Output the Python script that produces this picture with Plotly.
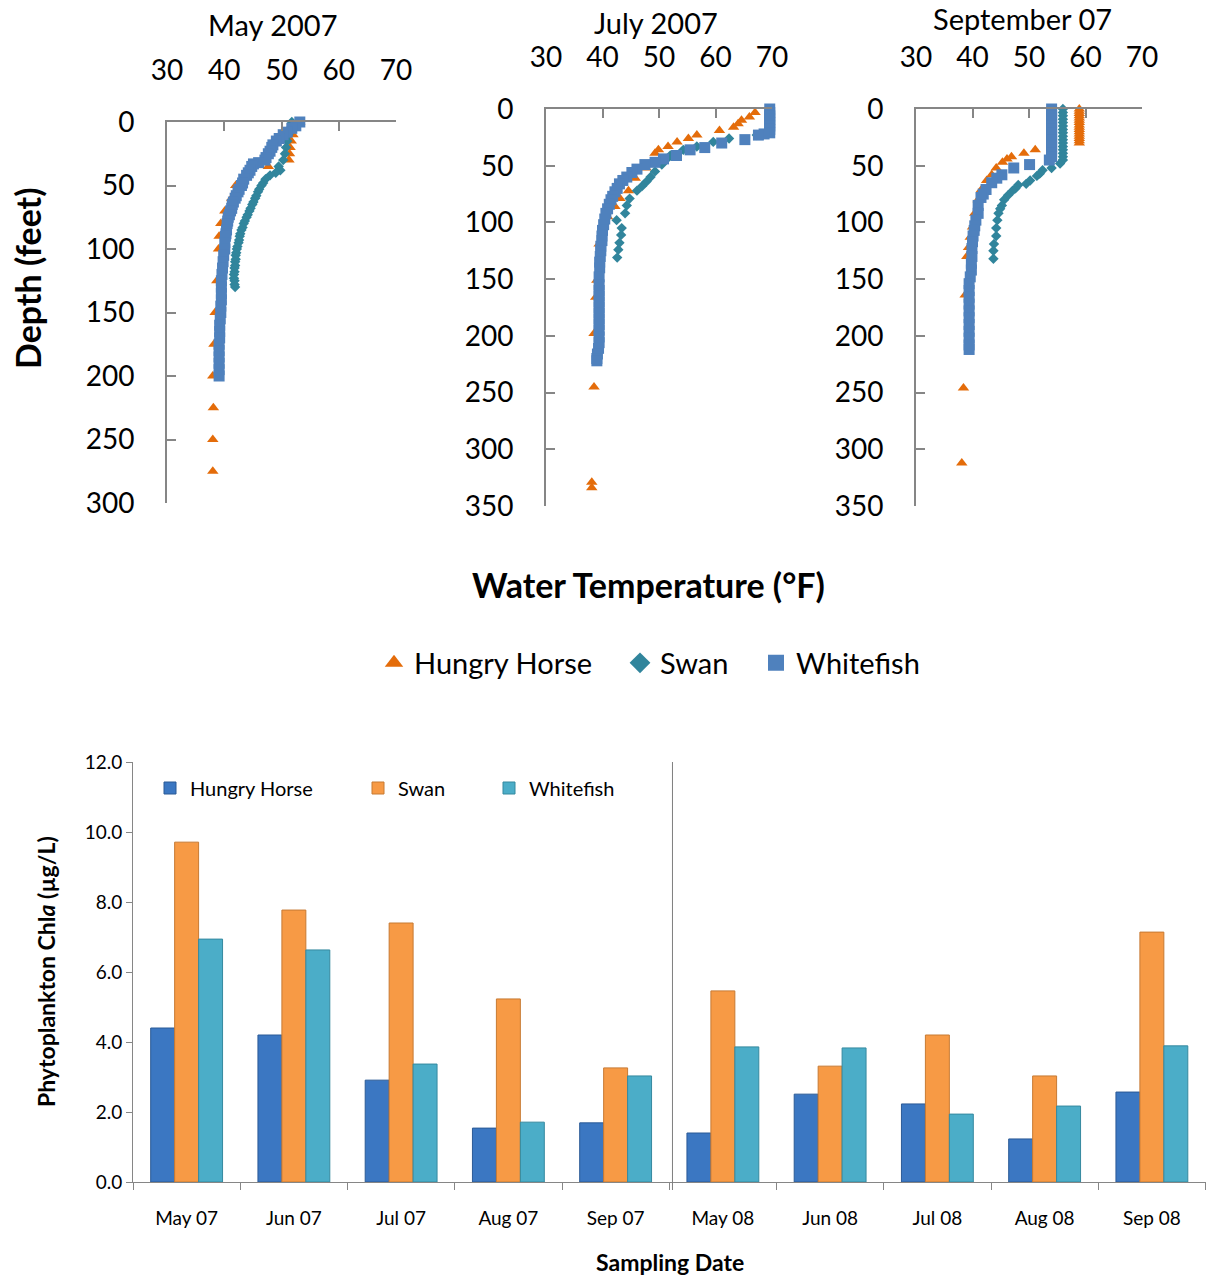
import plotly.graph_objects as go

W, H = 1206, 1276
FONT = "Lato"

# ---------------- temperature profiles (depth in feet, temperature in °F) ----------------
# May 2007
may_hh_depth = [0, 10, 15, 20, 25, 30, 35, 50, 60, 70, 80, 90, 100, 125, 150, 175, 200, 225, 250, 275]
may_hh_temp = [53.2, 52.0, 51.7, 51.5, 51.4, 51.3, 47.7, 42.0, 41.3, 40.1, 39.4, 39.1, 39.0, 38.7, 38.4,
               38.2, 38.0, 38.1, 38.0, 38.0]

may_sw_depth = [0, 5, 10, 15, 20, 25, 30, 35, 38, 40, 42, 45, 48, 50, 53, 55, 58, 60, 63, 65, 68, 70, 73,
                75, 78, 80, 83, 85, 88, 90, 93, 95, 98, 100, 103, 105, 108, 110, 113, 115, 118, 120, 123,
                125, 128, 130]
may_sw_temp = [51.8, 51.5, 51.2, 51.0, 50.8, 50.6, 50.3, 49.5, 49.8, 49.0, 48.0, 47.2, 46.8, 46.5, 46.1,
               45.9, 45.6, 45.4, 45.1, 44.9, 44.6, 44.4, 44.1, 43.9, 43.6, 43.4, 43.2, 43.0, 42.8, 42.7,
               42.6, 42.5, 42.3, 42.2, 42.1, 42.0, 42.0, 41.9, 41.9, 41.8, 41.8, 41.7, 41.7, 41.8, 41.8,
               41.9]

may_wf_depth = [0, 3, 5, 8, 10, 13, 15, 18, 20, 23, 25, 28, 30, 32, 33, 35, 38, 40, 42, 45, 48, 50, 53,
                55, 58, 60, 63, 65, 68, 70, 73, 75, 78, 80, 85, 88, 90, 95, 100, 105, 110, 115, 120, 125,
                130, 135, 140, 145, 150, 155, 160, 165, 170, 175, 180, 185, 190, 195, 200]
may_wf_temp = [53.2, 52.5, 51.8, 51.0, 50.3, 49.6, 49.1, 48.5, 48.3, 48.0, 47.7, 47.3, 47.1, 46.0, 45.1,
               44.8, 44.5, 44.2, 43.9, 43.4, 43.2, 43.0, 42.6, 42.4, 42.1, 41.9, 41.6, 41.4, 41.3, 41.1,
               40.9, 40.7, 40.6, 40.5, 40.4, 40.3, 40.2, 40.1, 40.1, 39.9, 39.8, 39.7, 39.6, 39.5, 39.5,
               39.5, 39.5, 39.4, 39.4, 39.3, 39.2, 39.2, 39.2, 39.1, 39.1, 39.1, 39.1, 39.1, 39.1]

# July 2007
jul_hh_depth = [3, 7, 10, 13, 16, 19, 23, 26, 29, 33, 36, 39, 52, 61, 72, 79, 86, 95, 119, 151, 166, 198,
                245, 329, 334]
jul_hh_temp = [67.0, 66.0, 64.6, 64.0, 63.2, 60.7, 56.7, 55.2, 53.2, 51.6, 49.9, 49.3, 47.7, 45.8, 44.6,
               43.1, 42.2, 40.9, 39.4, 39.0, 38.8, 38.5, 38.5, 38.1, 38.1]

jul_sw_depth = [23, 26, 29, 33, 36, 41, 45, 49, 55, 60, 64, 68, 72, 79, 85, 92, 98, 105, 111, 118, 124, 131]
jul_sw_temp = [67.3, 62.4, 59.6, 56.7, 54.3, 52.0, 51.2, 50.5, 49.3, 48.5, 47.8, 47.0, 46.1, 44.8, 44.3,
               44.0, 42.5, 43.4, 43.3, 43.0, 42.8, 42.6]

jul_wf_depth = [0, 3, 6, 9, 12, 15, 18, 21, 22, 23, 27, 30, 34, 36, 41, 44, 47, 49, 53, 56, 60, 63, 66,
                70, 73, 77, 80, 84, 88, 92, 97, 102, 107, 112, 116, 121, 125, 130, 135, 140, 148, 155, 160,
                165, 170, 175, 180, 185, 190, 195, 201, 206, 211, 216, 220, 222]
jul_wf_temp = [69.6, 69.6, 69.6, 69.6, 69.6, 69.6, 69.6, 69.6, 68.6, 67.6, 65.2, 61.1, 58.1, 55.5, 53.1,
               50.8, 49.3, 47.5, 46.1, 45.2, 44.3, 43.6, 43.0, 42.6, 42.2, 41.8, 41.5, 41.2, 40.9, 40.6,
               40.4, 40.2, 40.0, 39.9, 39.9, 39.7, 39.7, 39.6, 39.5, 39.5, 39.4, 39.4, 39.4, 39.4, 39.4,
               39.4, 39.4, 39.4, 39.4, 39.4, 39.4, 39.4, 39.3, 39.1, 39.0, 39.0]

# September 2007
sep_hh_depth = [0, 2, 4, 6, 8, 10, 12, 14, 16, 18, 20, 22, 24, 26, 28, 30, 36, 39, 42, 44, 47, 52, 58, 63,
                71, 80, 92, 104, 113, 122, 130, 164, 246, 312]
sep_hh_temp = [58.9, 58.9, 58.9, 58.9, 58.9, 58.9, 58.9, 58.9, 58.9, 58.9, 58.9, 58.9, 58.9, 58.9, 58.9,
               58.9, 51.1, 49.1, 46.9, 46.1, 45.3, 44.2, 43.4, 42.5, 41.6, 41.0, 40.4, 40.0, 39.6, 39.3,
               39.0, 38.7, 38.4, 38.1]

sep_sw_depth = [0, 3, 6, 9, 12, 15, 18, 21, 24, 27, 30, 33, 36, 39, 42, 45, 48, 52, 54, 57, 59, 63, 66,
                67, 70, 72, 76, 80, 85, 88, 92, 98, 105, 112, 119, 125, 132]
sep_sw_temp = [56.0, 56.0, 56.0, 56.0, 56.0, 56.0, 56.0, 56.0, 56.0, 56.0, 56.0, 56.0, 56.0, 56.0, 56.0,
               56.0, 55.5, 54.0, 52.4, 51.9, 51.4, 50.2, 49.5, 48.1, 47.6, 47.1, 46.3, 45.6, 45.2, 44.9,
               44.6, 44.4, 44.2, 44.2, 43.8, 43.7, 43.7]

sep_wf_depth = [0, 3, 6, 9, 12, 15, 18, 21, 24, 27, 30, 33, 36, 39, 42, 45, 49, 52, 58, 61, 65, 71, 75,
                78, 85, 92, 98, 103, 107, 112, 117, 123, 130, 136, 142, 148, 154, 160, 166, 172, 178, 184,
                190, 196, 202, 208, 212]
sep_wf_temp = [54.0, 54.0, 54.0, 54.0, 54.0, 54.0, 54.0, 54.0, 54.0, 54.0, 54.0, 54.0, 54.0, 54.0, 54.0,
               53.6, 50.1, 47.3, 45.2, 44.3, 43.4, 42.4, 41.9, 41.5, 41.0, 41.0, 40.6, 40.4, 40.3, 40.1,
               40.0, 39.9, 39.9, 39.8, 39.8, 39.6, 39.4, 39.4, 39.4, 39.4, 39.4, 39.4, 39.4, 39.4, 39.4,
               39.4, 39.4]

temp_ticks = [30, 40, 50, 60, 70]
depth_ticks_may = [0, 50, 100, 150, 200, 250, 300]
depth_ticks_other = [0, 50, 100, 150, 200, 250, 300, 350]

# ---------------- phytoplankton chlorophyll a (µg/L) ----------------
dates = ["May 07", "Jun 07", "Jul 07", "Aug 07", "Sep 07",
         "May 08", "Jun 08", "Jul 08", "Aug 08", "Sep 08"]
chl_hungry_horse = [4.40, 4.20, 2.91, 1.54, 1.69, 1.40, 2.51, 2.23, 1.23, 2.57]
chl_swan = [9.71, 7.77, 7.40, 5.23, 3.26, 5.46, 3.31, 4.20, 3.03, 7.14]
chl_whitefish = [6.94, 6.63, 3.37, 1.71, 3.03, 3.86, 3.83, 1.94, 2.17, 3.89]

# ---------------- styling ----------------
HH_COL, SW_COL, WF_COL = "#E46C0A", "#31859C", "#4F81BD"
AX_COL = "#868686"


def px_x(p):
    return p / W


def px_y(p):
    return 1 - p / H


fig = go.Figure()

profiles = [
    ("", may_hh_depth, may_hh_temp, may_sw_depth, may_sw_temp, may_wf_depth, may_wf_temp),
    ("2", jul_hh_depth, jul_hh_temp, jul_sw_depth, jul_sw_temp, jul_wf_depth, jul_wf_temp),
    ("3", sep_hh_depth, sep_hh_temp, sep_sw_depth, sep_sw_temp, sep_wf_depth, sep_wf_temp),
]
for suf, hd, ht, sd, st, wd, wt in profiles:
    xa, ya = "x" + suf, "y" + suf
    fig.add_trace(go.Scatter(x=ht, y=hd, mode="markers", xaxis=xa, yaxis=ya, showlegend=False,
                             cliponaxis=False,
                             marker=dict(symbol="triangle-up", size=10, color=HH_COL)))
    fig.add_trace(go.Scatter(x=st, y=sd, mode="markers", xaxis=xa, yaxis=ya, showlegend=False,
                             cliponaxis=False,
                             marker=dict(symbol="diamond", size=8, color=SW_COL)))
    fig.add_trace(go.Scatter(x=wt, y=wd, mode="markers", xaxis=xa, yaxis=ya, showlegend=False,
                             cliponaxis=False,
                             marker=dict(symbol="square", size=11, color=WF_COL)))

# legend entries for the profile panels (one legend per entry so each can be placed)
for name, sym, col, lg in [("Hungry Horse", "triangle-up", HH_COL, "legend"),
                           ("Swan", "diamond", SW_COL, "legend2"),
                           ("Whitefish", "square", WF_COL, "legend3")]:
    fig.add_trace(go.Scatter(x=[None], y=[None], mode="markers", name=name, legend=lg,
                             xaxis="x", yaxis="y",
                             marker=dict(symbol=sym, size=16, color=col)))

# bar chart
bar_specs = [("Hungry Horse", chl_hungry_horse, "#3B77C2", "#2B5A96", "legend4"),
             ("Swan", chl_swan, "#F79A45", "#C77A33", "legend5"),
             ("Whitefish", chl_whitefish, "#4BADC8", "#35899F", "legend6")]
for name, vals, fill, edge, lg in bar_specs:
    fig.add_trace(go.Bar(x=dates, y=vals, name=name, legend=lg, xaxis="x4", yaxis="y4",
                         marker=dict(color=fill, line=dict(color=edge, width=1))))

tick_font = dict(family=FONT, size=28, color="black")
common_x = dict(range=[30, 70], tickvals=temp_ticks, side="top", showline=True, linecolor=AX_COL,
                linewidth=2, ticks="inside", ticklen=9, tickwidth=2, tickcolor=AX_COL,
                showgrid=False, zeroline=False, tickfont=tick_font, ticklabelstandoff=29)
common_y = dict(showline=True, linecolor=AX_COL, linewidth=2, ticks="inside", ticklen=9, tickwidth=2,
                tickcolor=AX_COL, showgrid=False, zeroline=False, tickfont=tick_font,
                ticklabelstandoff=25)

panel_x = [(167, 396), (546, 772), (916, 1142)]
panel_y = [(122, 503), (109, 506), (109, 506)]
layout_axes = {}
for i, (suf, ticks, top) in enumerate([("", depth_ticks_may, 300), ("2", depth_ticks_other, 350),
                                       ("3", depth_ticks_other, 350)]):
    x0, x1 = panel_x[i]
    y0, y1 = panel_y[i]
    layout_axes["xaxis" + suf] = dict(common_x, domain=[px_x(x0), px_x(x1)], anchor="y" + suf)
    layout_axes["yaxis" + suf] = dict(common_y, domain=[px_y(y1), px_y(y0)], anchor="x" + suf,
                                      range=[top, 0], tickvals=ticks)

layout_axes["xaxis4"] = dict(domain=[px_x(133), px_x(1205.5)], anchor="y4", type="category",
                             showline=True, linecolor=AX_COL, linewidth=1, ticks="outside",
                             tickson="boundaries", ticklen=7, tickcolor=AX_COL, showgrid=False,
                             tickfont=dict(family=FONT, size=19, color="black"),
                             ticklabelstandoff=19)
layout_axes["yaxis4"] = dict(domain=[px_y(1182), px_y(762)], anchor="x4", range=[0, 12], dtick=2,
                             tickformat=".1f", showline=True, linecolor=AX_COL, linewidth=1,
                             ticks="outside", ticklen=6, tickcolor=AX_COL, showgrid=False,
                             zeroline=False, tickfont=dict(family=FONT, size=19, color="black"))

leg_top = dict(font=dict(family=FONT, size=29, color="black"), orientation="h", yanchor="middle",
               xanchor="left", bgcolor="rgba(0,0,0,0)", itemsizing="trace")
leg_bot = dict(font=dict(family=FONT, size=20, color="black"), orientation="h", yanchor="middle",
               xanchor="left", bgcolor="rgba(0,0,0,0)")

annotations = [
    dict(text="May 2007", x=px_x(273), y=px_y(25), font=dict(family=FONT, size=29)),
    dict(text="July 2007", x=px_x(656), y=px_y(22), font=dict(family=FONT, size=29)),
    dict(text="September 07", x=px_x(1022), y=px_y(19), font=dict(family=FONT, size=29)),
    dict(text="<b>Depth (feet)</b>", x=px_x(28), y=px_y(278), textangle=-90,
         font=dict(family=FONT, size=34)),
    dict(text="<b>Water Temperature (°F)</b>", x=px_x(648), y=px_y(585),
         font=dict(family=FONT, size=34)),
    dict(text="<b>Sampling Date</b>", x=px_x(670), y=px_y(1262), font=dict(family=FONT, size=23)),
    dict(text="<b>Phytoplankton Chl<i>a</i> (µg/L)</b>", x=px_x(46), y=px_y(972), textangle=-90,
         font=dict(family=FONT, size=23)),
]
for a in annotations:
    a.update(xref="paper", yref="paper", showarrow=False, xanchor="center", yanchor="middle")
    a["font"]["color"] = "black"

fig.update_layout(
    width=W, height=H, margin=dict(l=0, r=0, t=0, b=0, autoexpand=False),
    paper_bgcolor="white", plot_bgcolor="white",
    font=dict(family=FONT, color="black"),
    barmode="group", bargap=0.33, bargroupgap=0,
    annotations=annotations,
    shapes=[dict(type="line", xref="x4", yref="paper", x0=4.53, x1=4.53,
                 y0=px_y(1190), y1=px_y(762), line=dict(color="#7F7F7F", width=1))],
    legend=dict(leg_top, x=px_x(374), y=px_y(663)),
    legend2=dict(leg_top, x=px_x(620), y=px_y(663)),
    legend3=dict(leg_top, x=px_x(756), y=px_y(663)),
    legend4=dict(leg_bot, x=px_x(150), y=px_y(788)),
    legend5=dict(leg_bot, x=px_x(358), y=px_y(788)),
    legend6=dict(leg_bot, x=px_x(489), y=px_y(788)),
    **layout_axes,
)

fig.write_html("out.html")
